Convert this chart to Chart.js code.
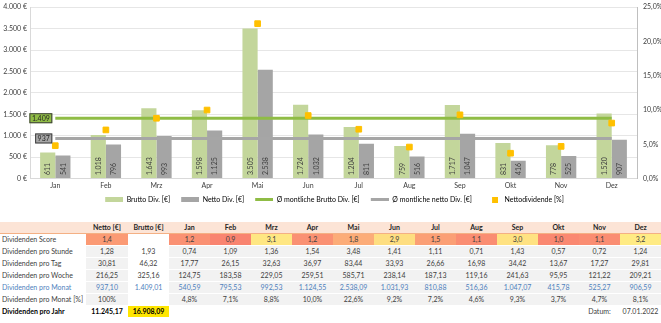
<!DOCTYPE html>
<html><head><meta charset="utf-8">
<script src="https://cdn.jsdelivr.net/npm/chart.js@4/dist/chart.umd.min.js"></script>
<style>
body{margin:0;background:#fff;font-family:Lato,"Open Sans",sans-serif;width:661px;height:323px;overflow:hidden;position:relative}
#c{position:absolute;left:0;top:0}
table{position:absolute;left:0;top:222px;border-collapse:collapse;table-layout:fixed;width:661px;font-size:7px;color:#404040}
td,th{height:11px;padding:0 2px;line-height:11px;white-space:nowrap;overflow:hidden;text-align:center;border-bottom:1px solid #fff}
th{background:#fce4d6;font-weight:bold;border-bottom:1px solid #f4b084;color:#262626}
td.l{text-align:left}
td.g{background:#f2f2f2}
tr.blue td{color:#4f81bd}
tr.bold td{font-weight:bold;color:#000}
td.y{background:#ffe600}
</style></head>
<body>
<canvas id="c" width="661" height="213"></canvas>
<table id="t"></table>
<script>
const months = ['Jan','Feb','Mrz','Apr','Mai','Jun','Jul','Aug','Sep','Okt','Nov','Dez'];
const brutto = [611,1018,1643,1598,3505,1724,1204,759,1717,831,778,1520];
const netto = [541,796,993,1125,2538,1032,811,516,1047,416,525,907];
const nettoPct = [4.8,7.1,8.8,10.0,22.6,9.2,7.2,4.6,9.3,3.7,4.7,8.1];
const avgBrutto = 1409;
const avgNetto = 937;

const scoreRow = ['1,4','', '1,2','0,9','3,1','1,2','1,8','2,9','1,5','1,1','3,0','1,0','1,1','3,2'];
const stundeRow = ['1,28','1,93','0,74','1,09','1,36','1,54','3,48','1,41','1,11','0,71','1,43','0,57','0,72','1,24'];
const tagRow = ['30,81','46,32','17,77','26,15','32,63','36,97','83,44','33,93','26,66','16,98','34,42','13,67','17,27','29,81'];
const wocheRow = ['216,25','325,16','124,75','183,58','229,05','259,51','585,71','238,14','187,13','119,16','241,63','95,95','121,22','209,21'];
const monatRow = ['937,10','1.409,01','540,59','795,53','992,53','1.124,55','2.538,09','1.031,93','810,88','516,36','1.047,07','415,78','525,27','906,59'];
const monatPctRow = ['100%','','4,8%','7,1%','8,8%','10,0%','22,6%','9,2%','7,2%','4,6%','9,3%','3,7%','4,7%','8,1%'];
const jahrNetto = '11.245,17';
const jahrBrutto = '16.908,09';
const datum = '07.01.2022';

function de(n){return String(Math.round(n)).replace(/\B(?=(\d{3})+(?!\d))/g,'.');}

// table
(function(){
  const t=document.getElementById('t');
  let h='<colgroup><col style="width:86px"><col style="width:42px"><col style="width:41px">'+months.map(()=>'<col style="width:41px">').join('')+'</colgroup>';
  h+='<tr><th></th><th>Netto [€]</th><th>Brutto [€]</th>'+months.map(m=>'<th>'+m+'</th>').join('')+'</tr>';
  function scoreColor(s){
    const v=parseFloat(s.replace(',','.'));
    const t=Math.max(0,Math.min(1,(v-0.3)/(3.2-0.3)));
    const r=Math.round(248+t*(255-248)),g=Math.round(105+t*(235-105)),b=Math.round(107+t*(132-107));
    return 'rgb('+r+','+g+','+b+')';
  }
  h+='<tr><td class="l">Dividenden Score</td>'+scoreRow.map(s=>s?'<td style="background:'+scoreColor(s)+'">'+s+'</td>':'<td></td>').join('')+'</tr>';
  function row(label,arr,cls){
    return '<tr'+(cls?' class="'+cls+'"':'')+'><td class="l">'+label+'</td>'+arr.map((v,i)=>'<td class="'+(i===1?'':'g')+'">'+v+'</td>').join('')+'</tr>';
  }
  h+=row('Dividenden pro Stunde',stundeRow);
  h+=row('Dividenden pro Tag',tagRow);
  h+=row('Dividenden pro Woche',wocheRow);
  h+=row('Dividenden pro Monat',monatRow,'blue');
  h+=row('Dividenden pro Monat [%]',monatPctRow);
  h+='<tr class="bold"><td class="l">Dividenden pro Jahr</td><td>'+jahrNetto+'</td><td class="y">'+jahrBrutto+'</td>'+months.map((m,i)=>i===10?'<td style="font-weight:normal;color:#404040">Datum:</td>':i===11?'<td style="font-weight:normal;color:#404040">'+datum+'</td>':'<td></td>').join('')+'</tr>';
  t.innerHTML=h;
})();

// legend icons: transparent left part gives spacing between legend entries
function icon(w,h,color,total){const c=document.createElement('canvas');c.width=total;c.height=h;const x=c.getContext('2d');x.fillStyle=color;x.fillRect(total-w,0,w,h);return c;}
const GREEN='#c3d69b', GRAY='#a5a5a5', LGREEN='#8fbc45', LGRAY='#a6a6a6', GOLD='#ffc000';
const IW=26;
const icons=[icon(18,5,GREEN,IW),icon(18,5,GRAY,IW),icon(18,3,LGREEN,IW),icon(18,3,LGRAY,IW),icon(6,6,GOLD,IW-6)];

const labelPlugin={
  id:'labels',
  afterDatasetsDraw(chart){
    const ctx=chart.ctx;
    ctx.save();
    ctx.font='7px Lato';
    ctx.fillStyle='#404040';
    [0,1].forEach(di=>{
      const meta=chart.getDatasetMeta(di);
      meta.data.forEach((bar,i)=>{
        ctx.save();
        ctx.translate(bar.x,bar.base-3);
        ctx.rotate(-Math.PI/2);
        ctx.textAlign='left';ctx.textBaseline='middle';
        ctx.fillText(de(chart.data.datasets[di].data[i]),0,0.5);
        ctx.restore();
      });
    });
    [[2,LGREEN],[3,LGRAY]].forEach(([di,col])=>{
      const p=chart.getDatasetMeta(di).data[0];
      const txt=de(chart.data.datasets[di].data[0]);
      ctx.font='7px Lato';
      const w=ctx.measureText(txt).width+5;
      const x1=p.x-3-w, y1=p.y-5;
      ctx.fillStyle=col;ctx.fillRect(x1,y1,w,10);
      ctx.strokeStyle='#404040';ctx.lineWidth=1;ctx.strokeRect(x1+0.5,y1+0.5,w-1,9);
      ctx.fillStyle='#262626';ctx.textAlign='center';ctx.textBaseline='middle';
      ctx.fillText(txt,x1+w/2,p.y+0.5);
    });
    ctx.restore();
  }
};

new Chart(document.getElementById('c'),{
  data:{
    labels:months,
    datasets:[
      {type:'bar',label:'Brutto Div. [€]',data:brutto,backgroundColor:GREEN,yAxisID:'y',order:3,categoryPercentage:0.6,barPercentage:1},
      {type:'bar',label:'Netto Div. [€]',data:netto,backgroundColor:GRAY,yAxisID:'y',order:3,categoryPercentage:0.6,barPercentage:1},
      {type:'line',label:'Ø montliche Brutto Div. [€]',data:months.map(()=>avgBrutto),borderColor:LGREEN,backgroundColor:LGREEN,borderWidth:3,pointRadius:0,yAxisID:'y',order:2},
      {type:'line',label:'Ø montliche netto Div. [€]',data:months.map(()=>avgNetto),borderColor:LGRAY,backgroundColor:LGRAY,borderWidth:3,pointRadius:0,yAxisID:'y',order:2},
      {type:'line',label:'Nettodividende [%]',data:nettoPct,showLine:false,pointStyle:'rect',pointRadius:4,backgroundColor:GOLD,borderColor:GOLD,yAxisID:'y1',order:1}
    ]
  },
  options:{
    responsive:false,animation:false,devicePixelRatio:1,
    layout:{padding:{top:3,left:0,right:0,bottom:0}},
    plugins:{
      tooltip:{enabled:false},
      legend:{position:'bottom',labels:{usePointStyle:true,pointStyleWidth:IW,padding:3,font:{size:7,family:'Lato'},color:'#404040',
        generateLabels(chart){
          return chart.data.datasets.map((d,i)=>({text:d.label,pointStyle:icons[i],datasetIndex:i,fillStyle:'#0000',strokeStyle:'#0000',lineWidth:0,hidden:false}));
        }}}
    },
    scales:{
      x:{grid:{display:false,drawTicks:false,tickLength:0},border:{color:'#d9d9d9'},ticks:{font:{size:7,family:'Lato'},color:'#404040',padding:3}},
      y:{position:'left',min:0,max:4000,ticks:{stepSize:500,font:{size:7,family:'Lato'},color:'#404040',callback:v=>de(v)+' €',padding:3},
         grid:{color:'#e6e6e6',drawTicks:false},border:{color:'#d9d9d9'},afterFit(s){s.width=30;}},
      y1:{position:'right',min:0,max:25,ticks:{stepSize:5,font:{size:7,family:'Lato'},color:'#404040',callback:v=>v.toFixed(1).replace('.',',')+'%',padding:3},
         grid:{display:false,tickLength:3,drawOnChartArea:false},border:{color:'#bfbfbf'},afterFit(s){s.width=24;}}
    }
  },
  plugins:[labelPlugin]
});
</script>
</body></html>
